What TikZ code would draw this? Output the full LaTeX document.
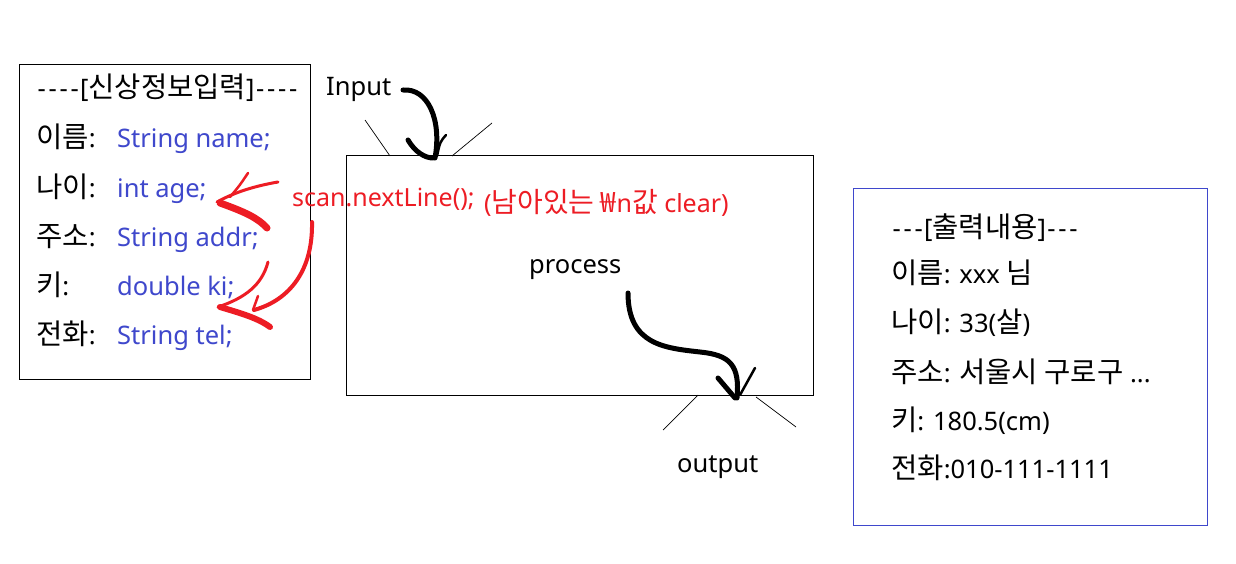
\documentclass[tikz,border=0pt]{standalone}
\usepackage{fontspec}
\setmainfont{Noto Sans}[Ligatures=TeXOff]
\newfontfamily\kr{Noto Sans CJK KR}[Scale=1.12,Ligatures=TeXOff]
\newcommand\hy{\makebox[11pt]{-}}
\definecolor{codeblue}{RGB}{63,72,204}
\definecolor{pred}{RGB}{237,28,36}
\begin{document}
\begin{tikzpicture}[x=1pt,y=-1pt,
  txt/.style={anchor=base west, inner sep=0pt, font=\fontsize{25.5}{30}\selectfont},
  code/.style={txt, text=codeblue},
  note/.style={txt, text=pred, font=\fontsize{25}{30}\selectfont},
  frame/.style={draw, line width=1pt, inner sep=0pt, anchor=north west},
  hair/.style={line width=0.7pt},
  stroke/.style={line width=5pt, line cap=round, line join=round},
  redstroke/.style={draw=pred, line cap=round, line join=round}]
\useasboundingbox[fill=white] (0,0) rectangle (1236,564);

% boxes
\node[frame, minimum width=291pt, minimum height=315pt] (inbox) at (19,64) {};
\node[frame, minimum width=467pt, minimum height=240pt] (proc) at (346,155) {};
\node[frame, draw=codeblue, minimum width=354pt, minimum height=337pt] (outbox) at (853,188) {};

% input box texts
\node[txt] (t0) at (36,98) {\hy\hy\hy\hy[{\kr 신상정보입력}]\hy\hy\hy\hy};
\node[txt] (l1) at (36,148) {{\kr 이름}:};
\node[txt] (l2) at (36,197) {{\kr 나이}:};
\node[txt] (l3) at (36,246) {{\kr 주소}:};
\node[txt] (l4) at (36,295) {{\kr 키}:};
\node[txt] (l5) at (36,344) {{\kr 전화}:};
\node[code] (v1) at (117,148) {String name;};
\node[code] (v2) at (117,197) {int age;};
\node[code] (v3) at (117,246) {String addr;};
\node[code] (v4) at (117,295) {double ki;};
\node[code] (v5) at (117,344) {String tel;};

% labels
\node[txt] (inp) at (326,96) {Input};
\node[txt] (prc) at (529,273) {process};
\node[txt] (outp) at (677,472) {output};
\node[note] (n1) at (292,206) {scan.nextLine();};
\node[note] (n2) at (484,212) {({\kr 남아있는 ₩}n{\kr 값} clear)};

% output box texts
\node[txt] (o0) at (891,237) {\hy\hy\hy[{\kr 출력내용}]\hy\hy\hy};
\node[txt] (o1) at (891,283) {{\kr 이름}: xxx {\kr 님}};
\node[txt] (o2) at (891,332) {{\kr 나이}: 33({\kr 살})};
\node[txt] (o3) at (891,382) {{\kr 주소}: {\kr 서울시 구로구} ...};
\node[txt] (o4) at (891,430) {{\kr 키}: 180.5(cm)};
\node[txt] (o5) at (891,478) {{\kr 전화}:010-111-1111};

% thin funnel lines
\draw[hair] (365,120) -- (390,156);
\draw[hair] (492,123) -- (452,156);
\draw[hair] (698,395) -- (663,430);
\draw[hair] (756,397) -- (796,427);

% black input arrow
\draw[stroke] (403,90) .. controls (428,88) and (442,120) .. (435,158);
\draw[stroke] (408,140) .. controls (415,152) and (425,158) .. (433,158);
\draw[line width=2.5pt, line cap=round] (446,135) .. controls (440,142) .. (437,156);

% black output arrow
\draw[stroke] (628,293) .. controls (628,345) and (665,348) .. (700,352) .. controls (730,355) and (740,365) .. (737,398);
\draw[stroke] (718,378) -- (735,398);
\draw[line width=2.5pt, line cap=round] (755,368) -- (740,395);

% red arrow A
\draw[redstroke, line width=3pt] (278,182) .. controls (255,186) and (235,192) .. (217,202);
\draw[redstroke, line width=2.5pt] (248,173) .. controls (240,185) .. (230,197);
\draw[redstroke, line width=7pt] (220,203) .. controls (245,212) and (258,218) .. (267,228);

% red arrow B
\draw[redstroke, line width=4pt] (312,222) .. controls (313,270) and (290,300) .. (254,310);
\draw[redstroke, line width=2.5pt] (258,296) -- (253,310);
\draw[redstroke, line width=3pt] (268,262) .. controls (262,285) and (245,298) .. (218,307);
\draw[redstroke, line width=6pt] (220,307) .. controls (240,313) and (258,318) .. (270,327);
\end{tikzpicture}
\end{document}
